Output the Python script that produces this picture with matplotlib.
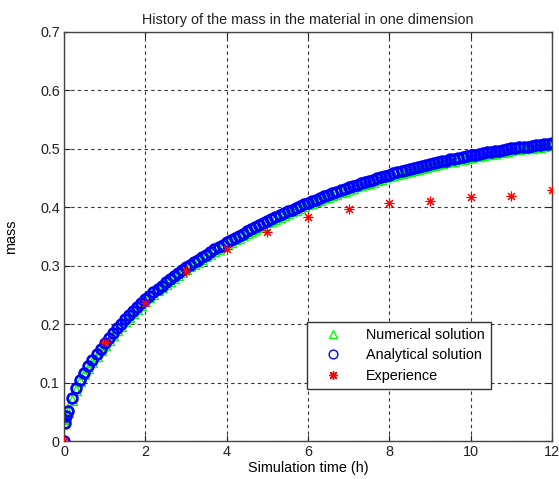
import matplotlib
matplotlib.use('Agg')
import matplotlib.pyplot as plt
import numpy as np

plt.rcParams['font.family'] = ['Liberation Sans', 'DejaVu Sans']

# simulation time grid (h) and the two solutions
t_early = [0.0, 0.03, 0.06]
t_grid = list(np.round(np.arange(1, 121) * 0.1, 1))
t_sim = t_early + t_grid

analytical = [
    0.000, 0.030, 0.042,
    0.052, 0.074, 0.091, 0.105, 0.117, 0.128, 0.139, 0.149, 0.158, 0.168,
    0.176, 0.185, 0.193, 0.200, 0.208, 0.215, 0.222, 0.229, 0.236, 0.243,
    0.249, 0.255, 0.261, 0.266, 0.272, 0.277, 0.282, 0.287, 0.292, 0.297,
    0.302, 0.306, 0.310, 0.315, 0.319, 0.323, 0.328, 0.332, 0.336, 0.340,
    0.344, 0.348, 0.351, 0.355, 0.359, 0.362, 0.366, 0.370, 0.373, 0.377,
    0.380, 0.383, 0.387, 0.390, 0.393, 0.396, 0.399, 0.402, 0.405, 0.408,
    0.411, 0.413, 0.416, 0.419, 0.421, 0.424, 0.426, 0.429, 0.431, 0.434,
    0.436, 0.439, 0.441, 0.443, 0.445, 0.447, 0.450, 0.452, 0.454, 0.456,
    0.458, 0.460, 0.462, 0.463, 0.465, 0.467, 0.469, 0.470, 0.472, 0.474,
    0.476, 0.477, 0.479, 0.480, 0.482, 0.483, 0.485, 0.486, 0.488, 0.489,
    0.490, 0.491, 0.493, 0.494, 0.495, 0.496, 0.497, 0.498, 0.500, 0.501,
    0.502, 0.503, 0.504, 0.504, 0.505, 0.506, 0.507, 0.508, 0.509, 0.510,
]

numerical = [
    0.038, 0.040, 0.043,
    0.050, 0.071, 0.088, 0.102, 0.114, 0.125, 0.136, 0.146, 0.155, 0.165,
    0.173, 0.182, 0.190, 0.197, 0.205, 0.212, 0.219, 0.226, 0.233, 0.240,
    0.246, 0.252, 0.258, 0.263, 0.269, 0.274, 0.279, 0.284, 0.289, 0.294,
    0.299, 0.303, 0.307, 0.312, 0.316, 0.320, 0.325, 0.329, 0.333, 0.337,
    0.341, 0.345, 0.348, 0.352, 0.356, 0.359, 0.363, 0.367, 0.370, 0.374,
    0.377, 0.380, 0.384, 0.387, 0.390, 0.393, 0.396, 0.399, 0.402, 0.405,
    0.408, 0.410, 0.413, 0.416, 0.418, 0.421, 0.423, 0.426, 0.428, 0.431,
    0.433, 0.436, 0.438, 0.440, 0.442, 0.444, 0.447, 0.449, 0.451, 0.453,
    0.455, 0.457, 0.459, 0.460, 0.462, 0.464, 0.466, 0.467, 0.469, 0.471,
    0.473, 0.474, 0.476, 0.477, 0.479, 0.480, 0.482, 0.483, 0.485, 0.486,
    0.487, 0.488, 0.490, 0.491, 0.492, 0.493, 0.494, 0.495, 0.497, 0.498,
    0.499, 0.500, 0.501, 0.501, 0.502, 0.503, 0.504, 0.505, 0.506, 0.507,
]

# measured points
t_exp = [0, 1, 2, 3, 4, 5, 6, 7, 8, 9, 10, 11, 12]
experience = [0.0, 0.170, 0.237, 0.291, 0.329, 0.357, 0.383, 0.397, 0.408,
              0.411, 0.417, 0.420, 0.429]

fig = plt.figure(figsize=(5.59, 4.79), dpi=100)
ax = fig.add_axes([0.1145, 0.0793, 0.873, 0.8539])

ax.plot(t_sim, numerical, linestyle='none', marker='^', markersize=6.5,
        markerfacecolor='none', markeredgecolor='#00ff00', markeredgewidth=1.0,
        label='Numerical solution')
ax.plot(t_sim, analytical, linestyle='none', marker='o', markersize=7,
        markerfacecolor='none', markeredgecolor='#0000ff', markeredgewidth=2.0,
        label='Analytical solution')
ax.plot(t_exp, experience, linestyle='none', marker=(8, 2, 0), markersize=7,
        markeredgecolor='#ff0000', markerfacecolor='#ff0000', markeredgewidth=0.8,
        color='#ff0000', label='Experience', zorder=3)

ax.set_xlim(0, 12)
ax.set_ylim(0, 0.7)
ax.set_xticks([0, 2, 4, 6, 8, 10, 12])
ax.set_yticks([0, 0.1, 0.2, 0.3, 0.4, 0.5, 0.6, 0.7])
ax.set_yticklabels(['0', '0.1', '0.2', '0.3', '0.4', '0.5', '0.6', '0.7'])
ax.tick_params(direction='in', labelsize=10.4, length=4, top=True, right=True,
               colors='#222222', pad=3)
ax.grid(True, color='#333333', linestyle=(0, (3, 3)), linewidth=0.8)
for s in ax.spines.values():
    s.set_color('#444444')
    s.set_linewidth(1.0)

ax.set_title('History of the mass in the material in one dimension',
             fontsize=10.4, color='#222222', pad=6)
ax.set_xlabel('Simulation time (h)', fontsize=10.4, labelpad=1)
ax.set_ylabel('mass', fontsize=10.4, labelpad=16)

leg = ax.legend(loc='lower left', bbox_to_anchor=(0.498, 0.128), fontsize=10.4,
                fancybox=False, framealpha=1, edgecolor='#333333',
                borderaxespad=0, borderpad=0.4, labelspacing=0.45,
                handletextpad=0.9, handlelength=2.8, markerscale=0.9)
leg.get_frame().set_linewidth(1.0)
for h in leg.legend_handles:
    h.set_markeredgewidth(1.0)

fig.savefig('out.png', dpi=100)
